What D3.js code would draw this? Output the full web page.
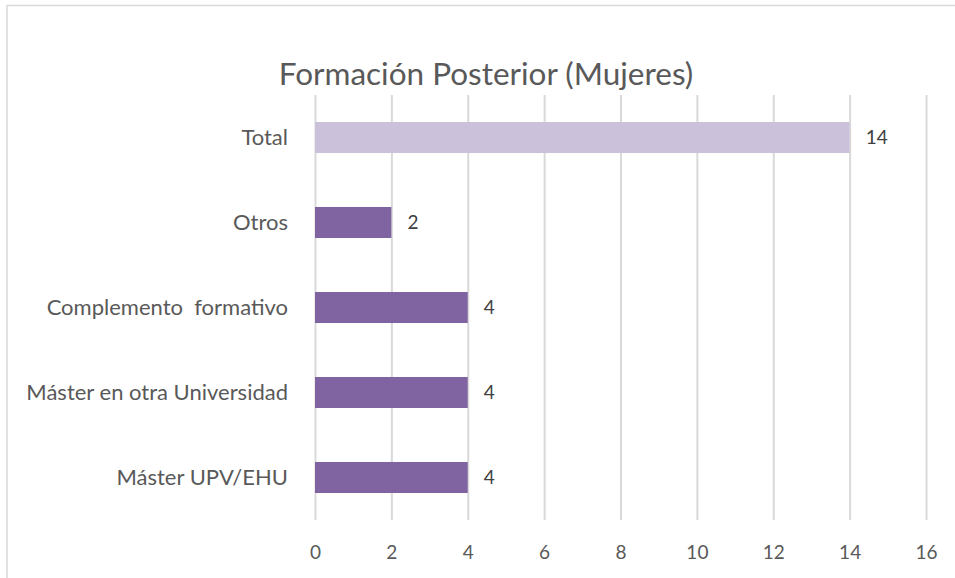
<!DOCTYPE html>
<html>
<head>
<meta charset="utf-8">
<script src="https://cdn.jsdelivr.net/npm/d3@7"></script>
<style>
  body { margin: 0; background: #fff; }
  svg { display: block; font-family: Lato, "Open Sans", sans-serif; }
</style>
</head>
<body>
<div id="chart"></div>
<script>
// data, top to bottom as in the chart
const categories = ["Total", "Otros", "Complemento  formativo", "Máster en otra Universidad", "Máster UPV/EHU"];
const values = [14, 2, 4, 4, 4];
const xTicks = [0, 2, 4, 6, 8, 10, 12, 14, 16];
const title = "Formación Posterior (Mujeres)";

const width = 955;
const height = 578;

const plotLeft = 315;
const plotRight = 926;
const plotTop = 95;
const plotBottom = 520;

const data = categories.map(function(c, i) {
    return {name: c, value: values[i], total: i === 0};
});

const svg = d3.select("#chart")
    .append("svg")
    .attr("width", width)
    .attr("height", height);

// chart border (runs off the right and bottom edge)
svg.append("rect")
    .attr("x", 7)
    .attr("y", 5.5)
    .attr("width", 1000)
    .attr("height", 1000)
    .attr("fill", "none")
    .attr("stroke", "#d9d9d9")
    .attr("stroke-width", 1.5);

svg.append("text")
    .attr("x", 486)
    .attr("y", 85)
    .attr("text-anchor", "middle")
    .attr("fill", "#595959")
    .attr("font-size", 31.5)
    .text(title);

// scales
const x = d3.scaleLinear()
    .domain([0, 16])
    .range([plotLeft, plotRight]);

const y = d3.scaleBand()
    .domain(categories)
    .range([plotTop, plotBottom])
    .paddingInner(0.635)
    .paddingOuter(0.3175);

// gridlines + tick labels
const xAxis = d3.axisBottom(x)
    .tickValues(xTicks)
    .tickSizeInner(-(plotBottom - plotTop))
    .tickSizeOuter(0);

const gx = svg.append("g")
    .attr("transform", "translate(0," + plotBottom + ")")
    .call(xAxis);

gx.select(".domain").remove();
gx.selectAll(".tick line")
    .attr("stroke", "#d9d9d9")
    .attr("stroke-width", 2);
gx.selectAll(".tick text")
    .attr("y", 32)
    .attr("dy", "0.35em")
    .attr("fill", "#595959")
    .attr("font-size", 19)
    .attr("font-family", "Lato, sans-serif");

// category labels
const yAxis = d3.axisLeft(y)
    .tickSize(0)
    .tickPadding(0);

const gy = svg.append("g")
    .attr("transform", "translate(288,0)")
    .call(yAxis);

gy.select(".domain").remove();
gy.selectAll(".tick text")
    .attr("fill", "#595959")
    .attr("font-size", 22)
    .attr("font-family", "Lato, sans-serif")
    .style("white-space", "pre");

// bars
svg.append("g").selectAll("rect")
    .data(data)
    .enter().append("rect")
    .attr("x", x(0))
    .attr("y", function(d) { return y(d.name); })
    .attr("width", function(d) { return x(d.value) - x(0); })
    .attr("height", y.bandwidth())
    .attr("fill", function(d) { return d.total ? "#ccc1da" : "#8064a2"; });

// value labels
svg.append("g").selectAll("text")
    .data(data)
    .enter().append("text")
    .attr("x", function(d) { return x(d.value) + 16; })
    .attr("y", function(d) { return y(d.name) + y.bandwidth() / 2; })
    .attr("dy", "0.35em")
    .attr("fill", "#404040")
    .attr("font-size", 19)
    .text(function(d) { return d.value; });
</script>
</body>
</html>
